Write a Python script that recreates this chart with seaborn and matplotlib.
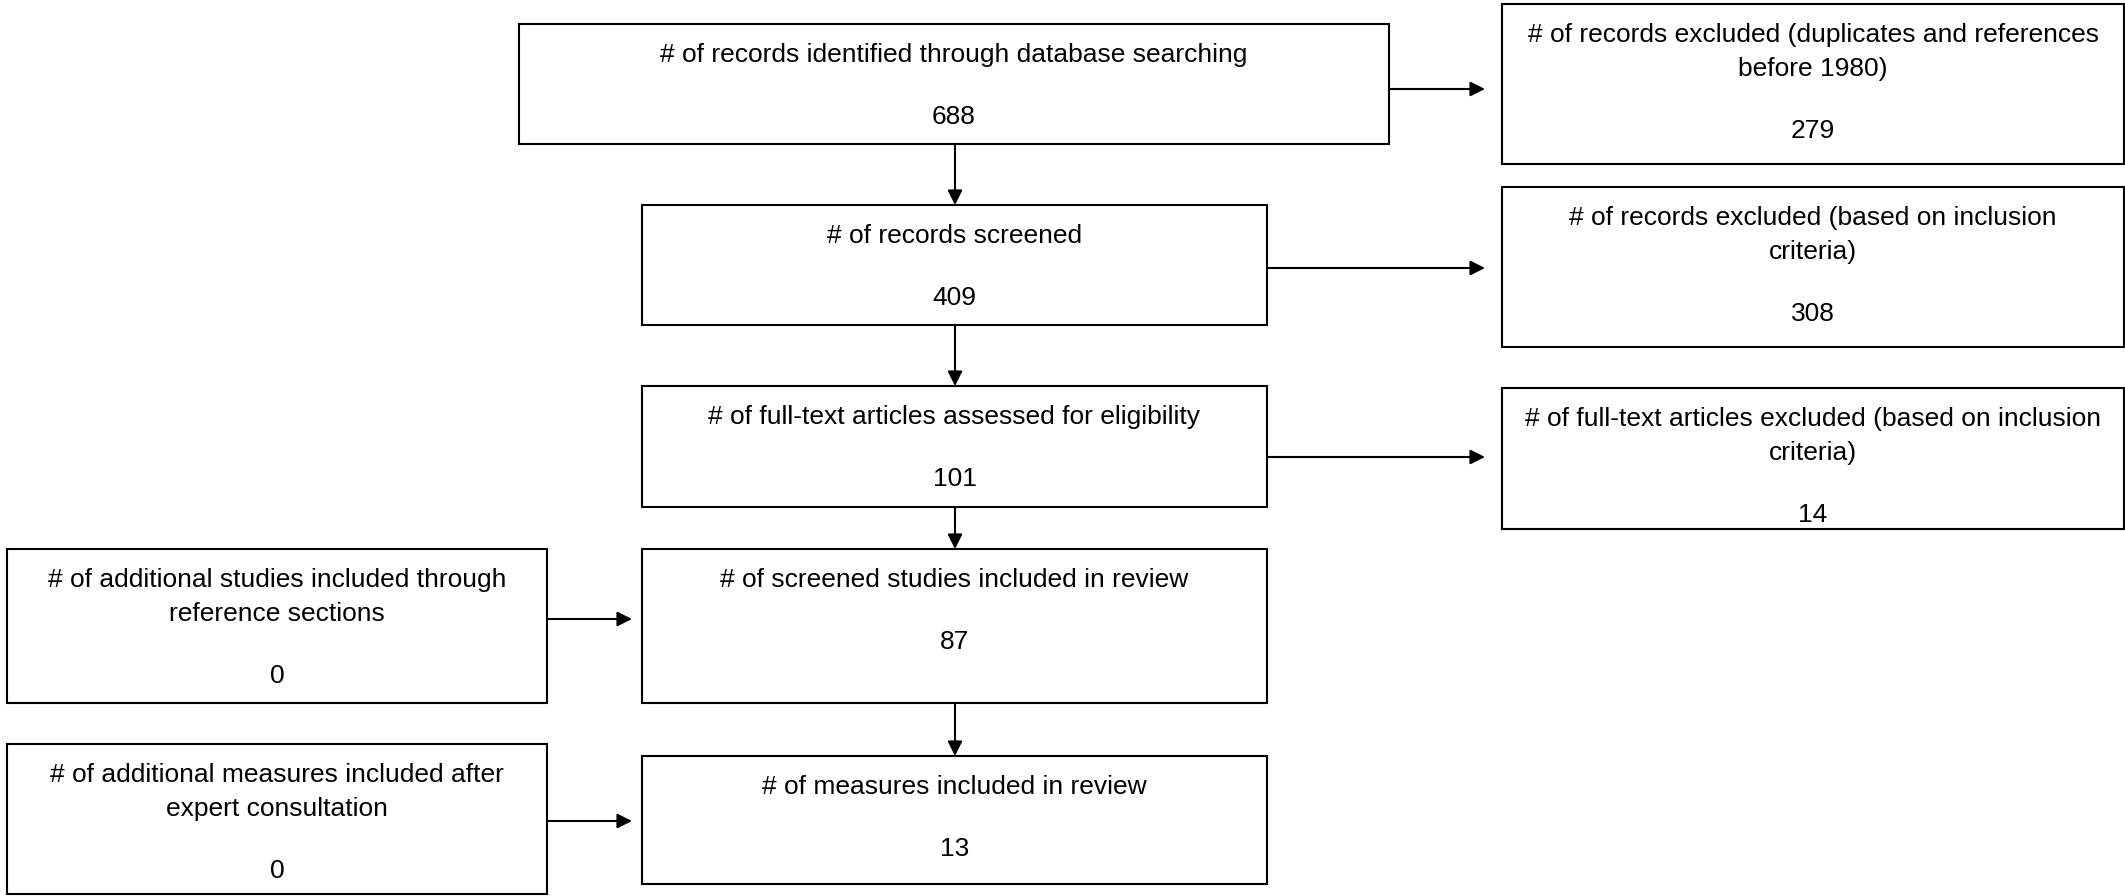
import matplotlib
matplotlib.use('Agg')
import matplotlib.pyplot as plt
import matplotlib.patches as mpatches
import seaborn as sns

# box texts and counts
labels = [
    "# of records identified through database searching",
    "# of records screened",
    "# of full-text articles assessed for eligibility",
    "# of screened studies included in review",
    "# of measures included in review",
    "# of records excluded (duplicates and references\nbefore 1980)",
    "# of records excluded (based on inclusion\ncriteria)",
    "# of full-text articles excluded (based on inclusion\ncriteria)",
    "# of additional studies included through\nreference sections",
    "# of additional measures included after\nexpert consultation",
]
counts = [688, 409, 101, 87, 13, 279, 308, 14, 0, 0]

# layout in pixels: left, top, right, bottom
boxes = [
    (519, 24, 1389, 144),
    (642, 205, 1267, 325),
    (642, 386, 1267, 507),
    (642, 549, 1267, 703),
    (642, 756, 1267, 884),
    (1502, 4, 2124, 164),
    (1502, 187, 2124, 347),
    (1502, 388, 2124, 529),
    (7, 549, 547, 703),
    (7, 744, 547, 894),
]

# arrows: (x0, y0, x1, y1)
arrows = [
    (1389, 89, 1485, 89),
    (1267, 268, 1485, 268),
    (1267, 457, 1485, 457),
    (955, 144, 955, 205),
    (955, 325, 955, 386),
    (955, 507, 955, 549),
    (955, 703, 955, 756),
    (547, 619, 632, 619),
    (547, 821, 632, 821),
]

sns.set_theme(style="white")
plt.rcParams['font.family'] = ['Liberation Sans', 'DejaVu Sans']

fig = plt.figure(figsize=(21.25, 8.96), dpi=100)
ax = fig.add_axes([0, 0, 1, 1])
ax.set_xlim(0, 2125)
ax.set_ylim(896, 0)
ax.axis('off')

for (l, t, r, b), label, n in zip(boxes, labels, counts):
    ax.add_patch(mpatches.Rectangle((l, t), r - l, b - t, fill=False,
                                    edgecolor='black', linewidth=1.5))
    cx = (l + r) / 2
    y = t + 31
    for line in label.split("\n"):
        ax.text(cx, y, line, ha='center', va='center', fontsize=19, color='black')
        y += 34
    ax.text(cx, y - 34 + 62, str(n), ha='center', va='center', fontsize=19, color='black')

for x0, y0, x1, y1 in arrows:
    ax.annotate('', xy=(x1, y1), xytext=(x0, y0),
                arrowprops=dict(arrowstyle='-|>', mutation_scale=22, lw=1.5,
                                color='black', shrinkA=0, shrinkB=0))

fig.savefig('out.png', dpi=100, facecolor='white')
